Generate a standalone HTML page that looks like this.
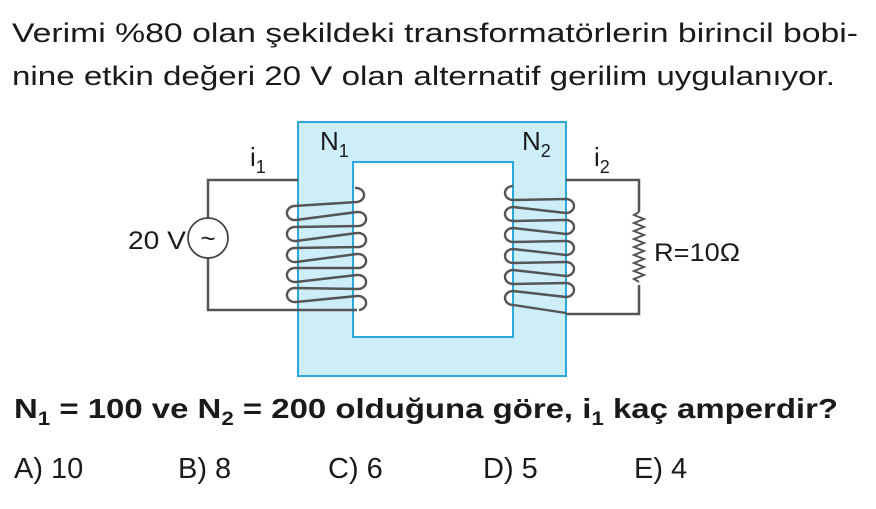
<!DOCTYPE html>
<html><head><meta charset="utf-8"><style>
html,body{margin:0;padding:0;background:#fff;}
svg{display:block;}
</style></head><body>
<svg width="876" height="509" viewBox="0 0 876 509" xmlns="http://www.w3.org/2000/svg" font-family="Liberation Sans, sans-serif">
<text x="12" y="42" font-size="27" fill="#1a1a1a" textLength="846" lengthAdjust="spacingAndGlyphs">Verimi %80 olan şekildeki transformatörlerin birincil bobi-</text>
<text x="12" y="85" font-size="27" fill="#1a1a1a" textLength="823" lengthAdjust="spacingAndGlyphs">nine etkin değeri 20 V olan alternatif gerilim uygulanıyor.</text>

<path d="M298,122 H566 V376 H298 Z M353,162 V337 H513 V162 Z" fill="#cdeef9" fill-rule="evenodd" stroke="#2aa8dc" stroke-width="2"/>

<g fill="none" stroke="#555" stroke-width="2.5">
<path d="M298,180 H208 V218"/>
<path d="M208,258 V310 H357"/>
<path d="M566,180 H639 V212"/>
<path d="M639,285 V314 H566"/>
</g>
<circle cx="208" cy="238" r="20" fill="#fff" stroke="#444" stroke-width="1.8"/>
<text x="208" y="247" font-size="26" text-anchor="middle" fill="#222">~</text>
<text x="128" y="249" font-size="25" fill="#1a1a1a" textLength="58" lengthAdjust="spacingAndGlyphs">20 V</text>

<g fill="none" stroke="#555" stroke-width="2.4">
<path d="M355,188 a8,7 0 1 1 2,14 L294,206 a8,7 0 1 0 2,14 L357,212 a8,7 0 1 1 2,14 L294,227 a8,7 0 1 0 2,14 L357,233 a8,7 0 1 1 2,14 L294,248 a8,7 0 1 0 2,14 L357,254 a8,7 0 1 1 2,14 L294,268 a8,7 0 1 0 2,14 L357,275 a8,7 0 1 1 2,14 L294,288 a8,7 0 1 0 2,14 L357,296 a8,7 0 1 1 2,14"/>
</g>
<g fill="none" stroke="#555" stroke-width="2.4">
<path d="M513,186 a8,7 0 1 0 0,14 L566,199 a8,7 0 1 1 0,14 L513,207 a8,7 0 1 0 0,14 L566,220 a8,7 0 1 1 0,14 L513,228 a8,7 0 1 0 0,14 L566,241 a8,7 0 1 1 0,14 L513,249 a8,7 0 1 0 0,14 L566,262 a8,7 0 1 1 0,14 L513,270 a8,7 0 1 0 0,14 L566,283 a8,7 0 1 1 0,14 L513,291 a8,7 0 1 0 0,14 L566,313"/>
</g>
<path d="M639,212 l-5,3 l10,4 l-10,4 l10,4 l-10,4 l10,4 l-10,4 l10,4 l-10,4 l10,4 l-10,4 l10,4 l-10,4 l10,4 l-10,4 l10,4 l-10,4 l5,3" fill="none" stroke="#555" stroke-width="2"/>
<text x="654" y="261" font-size="25" fill="#1a1a1a" textLength="86" lengthAdjust="spacingAndGlyphs">R=10Ω</text>

<text x="320" y="150" font-size="26" fill="#1a1a1a">N<tspan font-size="18" dy="7">1</tspan></text>
<text x="522" y="150" font-size="26" fill="#1a1a1a">N<tspan font-size="18" dy="7">2</tspan></text>
<text x="250" y="166" font-size="26" fill="#1a1a1a">i<tspan font-size="18" dy="7">1</tspan></text>
<text x="594" y="166" font-size="26" fill="#1a1a1a">i<tspan font-size="18" dy="7">2</tspan></text>

<text x="14" y="418" font-size="28" font-weight="bold" fill="#1a1a1a" textLength="824" lengthAdjust="spacingAndGlyphs">N<tspan font-size="19" dy="7">1</tspan><tspan dy="-7"> = 100 ve N</tspan><tspan font-size="19" dy="7">2</tspan><tspan dy="-7"> = 200 olduğuna göre, i</tspan><tspan font-size="19" dy="7">1</tspan><tspan dy="-7"> kaç amperdir?</tspan></text>
<g font-size="29" fill="#1a1a1a">
<text x="14" y="478">A) 10</text>
<text x="178" y="478">B) 8</text>
<text x="328" y="478">C) 6</text>
<text x="483" y="478">D) 5</text>
<text x="634" y="478">E) 4</text>
</g>
</svg>
</body></html>
